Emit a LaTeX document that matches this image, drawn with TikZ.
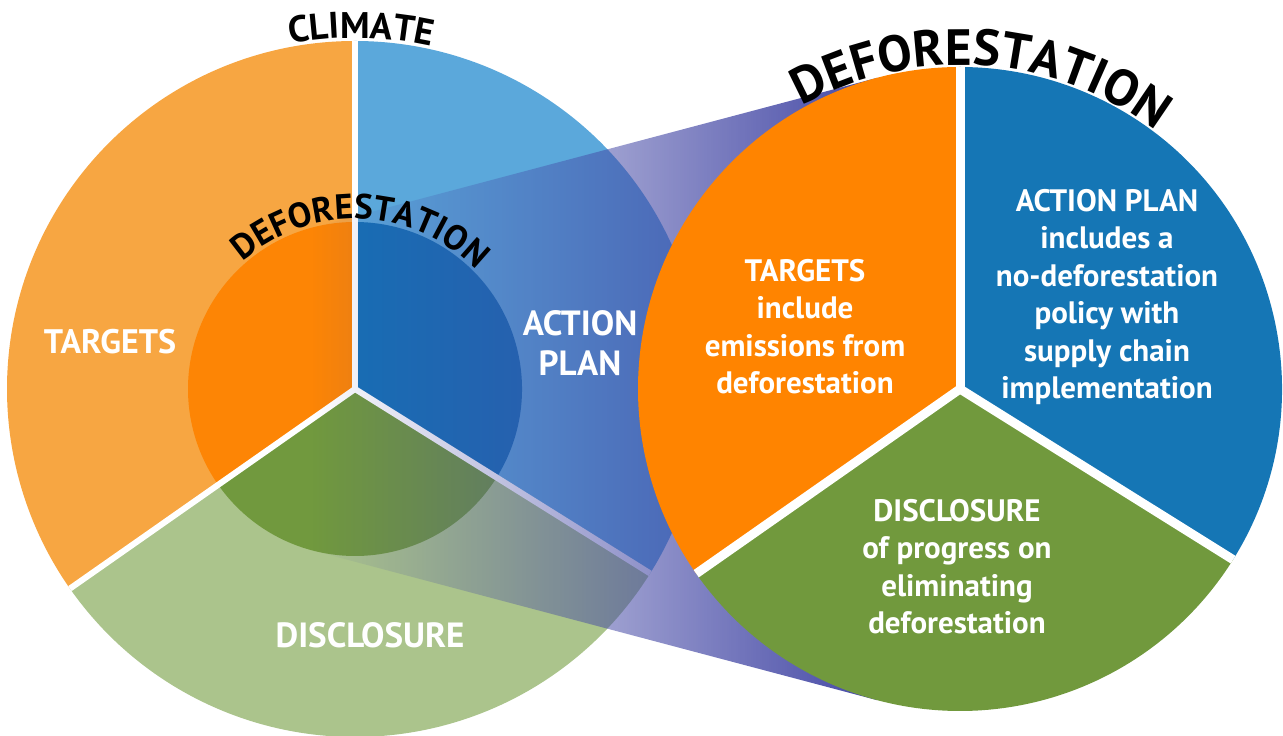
\documentclass[tikz,border=0pt]{standalone}
\usepackage{fontspec}
\setmainfont{PT Sans}
\usetikzlibrary{calc,decorations.text,fadings}
\definecolor{oOut}{HTML}{F7A642}
\definecolor{oIn}{HTML}{FD8505}
\definecolor{bOut}{HTML}{5BA8DB}
\definecolor{bIn}{HTML}{1570B5}
\definecolor{gOut}{HTML}{ABC48C}
\definecolor{gIn}{HTML}{71993E}
\definecolor{oR}{HTML}{FF8400}
\definecolor{bR}{HTML}{1576B5}
\definecolor{gR}{HTML}{71993D}
\definecolor{funnelc}{HTML}{4448A5}
\tikzfading[name=fadeR, left color=transparent!100, right color=transparent!0]
\begin{document}
\begin{tikzpicture}[x=1pt,y=1pt,
  divider/.style={white, line width=#1},
  lbl/.style={text=white, align=center, inner sep=0pt},
]
\useasboundingbox (0,0) rectangle (1283,736);
\coordinate (C1) at (355,347);
\coordinate (C2) at (960,347);
\def\Ra{348}\def\ra{167}\def\Rb{322}
\def\aL{215}\def\aR{-32}
% ---------- left circle
\fill[oOut] (C1) -- ($(C1)+(90:\Ra)$) arc[start angle=90, end angle=\aL, radius=\Ra] -- cycle;
\fill[gOut] (C1) -- ($(C1)+(\aL:\Ra)$) arc[start angle=\aL, end angle=328, radius=\Ra] -- cycle;
\fill[bOut] (C1) -- ($(C1)+(\aR:\Ra)$) arc[start angle=\aR, end angle=90, radius=\Ra] -- cycle;
\fill[oIn] (C1) -- ($(C1)+(90:\ra)$) arc[start angle=90, end angle=\aL, radius=\ra] -- cycle;
\fill[gIn] (C1) -- ($(C1)+(\aL:\ra)$) arc[start angle=\aL, end angle=328, radius=\ra] -- cycle;
\fill[bIn] (C1) -- ($(C1)+(\aR:\ra)$) arc[start angle=\aR, end angle=90, radius=\ra] -- cycle;
\coordinate (L1) at ($(C1)+(90:\Ra)$);
\coordinate (L2) at ($(C1)+(\aL:\Ra)$);
\coordinate (L3) at ($(C1)+(\aR:\Ra)$);
\draw[divider=6] (C1) -- (L1);
\draw[divider=6] (C1) -- (L2);
\draw[divider=6] (C1) -- (L3);
% ---------- funnel
\coordinate (T1) at ($(C1)+(104.84:\ra)$);
\coordinate (T2) at ($(C2)+(104.84:\Rb)$);
\coordinate (B1) at ($(C1)+(-104.84:\ra)$);
\coordinate (B2) at ($(C2)+(-104.84:\Rb)$);
\fill[funnelc, path fading=fadeR] (T1) -- (T2) -- (B2) -- (B1) -- cycle;
% ---------- right circle
\fill[oR] (C2) -- ($(C2)+(90:\Rb)$) arc[start angle=90, end angle=\aL, radius=\Rb] -- cycle;
\fill[gR] (C2) -- ($(C2)+(\aL:\Rb)$) arc[start angle=\aL, end angle=328, radius=\Rb] -- cycle;
\fill[bR] (C2) -- ($(C2)+(\aR:\Rb)$) arc[start angle=\aR, end angle=90, radius=\Rb] -- cycle;
\coordinate (R1) at ($(C2)+(90:\Rb)$);
\coordinate (R2) at ($(C2)+(\aL:\Rb)$);
\coordinate (R3) at ($(C2)+(\aR:\Rb)$);
\draw[divider=9] (C2) -- (R1);
\draw[divider=9] (C2) -- (R2);
\draw[divider=9] (C2) -- (R3);
% ---------- left labels
\node[lbl, font=\bfseries\fontsize{34}{34}\selectfont] (lt) at (110,394) {TARGETS};
\node[lbl, font=\bfseries\fontsize{35}{40}\selectfont, anchor=north] (la) at (580,426) {ACTION\\PLAN};
\node[lbl, font=\bfseries\fontsize{35}{35}\selectfont] (ld) at (370,101) {DISCLOSURE};
% ---------- right labels
\node[lbl, font=\bfseries\fontsize{31}{37.5}\selectfont, anchor=north] (rt) at (805,477)
  {TARGETS\\include\\emissions from\\deforestation};
\node[lbl, font=\bfseries\fontsize{31}{37.5}\selectfont, anchor=north] (ra) at (1107,547)
  {ACTION PLAN\\includes a\\no-deforestation\\policy with\\supply chain\\implementation};
\node[lbl, font=\bfseries\fontsize{31}{37.5}\selectfont, anchor=north] (rd) at (957,237)
  {DISCLOSURE\\of progress on\\eliminating\\deforestation};
% ---------- curved titles
\path[decorate, decoration={text along path, text align=center,
  text={|\bfseries\fontsize{37}{37}\selectfont|CLIMATE}}]
  ($(C1)+(129:351)$) arc[start angle=129, end angle=49, radius=351];
\path[decorate, decoration={text along path, text align=center,
  text={|\bfseries\fontsize{35}{35}\selectfont|DEFORESTATION}}]
  ($(C1)+(158:170)$) arc[start angle=158, end angle=18, radius=170];
\path[decorate, decoration={text along path, text align=center,
  text={|\bfseries\fontsize{51}{51}\selectfont|DEFORESTATION}}]
  ($(C2)+(146:324)$) arc[start angle=146, end angle=26, radius=324];
\end{tikzpicture}
\end{document}
